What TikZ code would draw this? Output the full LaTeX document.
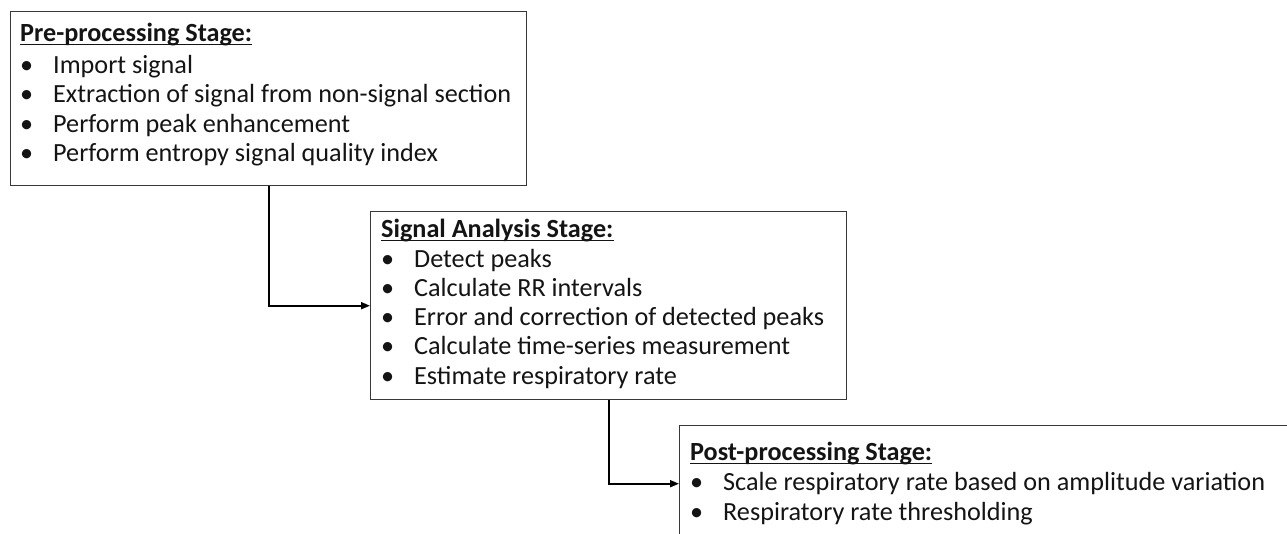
\documentclass[tikz,border=0pt]{standalone}
\usepackage{fontspec}
\setmainfont{Carlito}
\usetikzlibrary{arrows.meta}
\tikzset{
  stagebox/.style={draw=black!78, line width=1.4pt, rectangle, inner sep=0pt, anchor=north west},
  hd/.style={anchor=base west, inner sep=0pt, font=\bfseries\fontsize{26.2}{30}\selectfont, text=black!92},
  bul/.style={anchor=base west, inner sep=0pt, font=\fontsize{26.2}{30}\selectfont, text=black!92},
  itm/.style={anchor=base west, inner sep=0pt, font=\fontsize{26.2}{30}\selectfont, text=black!92},
  ul/.style={line width=1.4pt, black!92},
  conn/.style={line width=1.8pt, black, -{Triangle[length=9pt,width=7pt]}}
}
\begin{document}
\begin{tikzpicture}[x=1pt,y=-1pt]
\useasboundingbox (0,0) rectangle (1287,533);
\clip (0,0) rectangle (1287,533);
\fill[white] (0,0) rectangle (1287,533);

% boxes
\node[stagebox, minimum width=516pt, minimum height=174pt] (pre) at (10,11) {};
\node[stagebox, minimum width=476pt, minimum height=188pt] (ana) at (370,211) {};
\node[stagebox, minimum width=615pt, minimum height=116pt] (post) at (679,425) {};

% pre-processing
\node[hd] (preh) at (20,41) {Pre-processing Stage:};
\draw[ul] ([yshift=-3.5pt]preh.base west) -- ([yshift=-3.5pt]preh.base east);
\node[bul] (preb1) at (20,73.5) {•};
\node[itm] (pret1) at (53,73.5) {Import signal};
\node[bul] (preb2) at (20,102.8) {•};
\node[itm] (pret2) at (53,102.8) {Extraction of signal from non-signal section};
\node[bul] (preb3) at (20,132.1) {•};
\node[itm] (pret3) at (53,132.1) {Perform peak enhancement};
\node[bul] (preb4) at (20,161.4) {•};
\node[itm] (pret4) at (53,161.4) {Perform entropy signal quality index};

% signal analysis
\node[hd] (anah) at (381,237) {Signal Analysis Stage:};
\draw[ul] ([yshift=-3.5pt]anah.base west) -- ([yshift=-3.5pt]anah.base east);
\node[bul] (anab1) at (381,267) {•};
\node[itm] (anat1) at (414,267) {Detect peaks};
\node[bul] (anab2) at (381,296.3) {•};
\node[itm] (anat2) at (414,296.3) {Calculate RR intervals};
\node[bul] (anab3) at (381,325.6) {•};
\node[itm] (anat3) at (414,325.6) {Error and correction of detected peaks};
\node[bul] (anab4) at (381,354.9) {•};
\node[itm] (anat4) at (414,354.9) {Calculate time-series measurement};
\node[bul] (anab5) at (381,384.2) {•};
\node[itm] (anat5) at (414,384.2) {Estimate respiratory rate};

% post-processing
\node[hd] (posth) at (690,460) {Post-processing Stage:};
\draw[ul] ([yshift=-3.5pt]posth.base west) -- ([yshift=-3.5pt]posth.base east);
\node[bul] (postb1) at (690,490.5) {•};
\node[itm] (postt1) at (723,490.5) {Scale respiratory rate based on amplitude variation};
\node[bul] (postb2) at (690,520.5) {•};
\node[itm] (postt2) at (723,520.5) {Respiratory rate thresholding};

% connectors
\draw[conn] (pre.south) |- (ana.west);
\draw[conn] (ana.south) |- (post.west);
\end{tikzpicture}
\end{document}
